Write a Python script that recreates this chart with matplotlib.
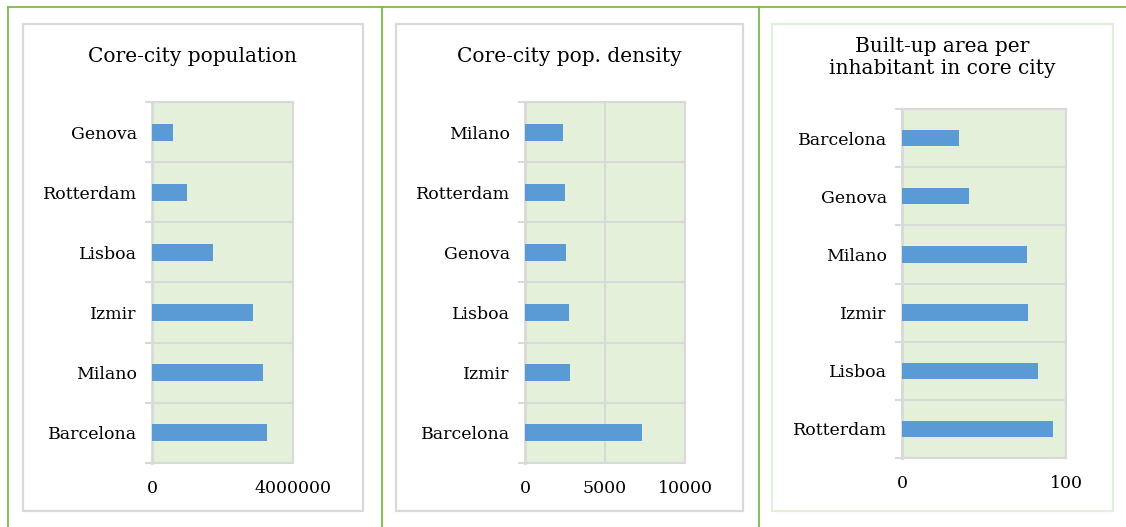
import matplotlib
matplotlib.use("Agg")
import matplotlib.pyplot as plt
from matplotlib.patches import Rectangle
from matplotlib.lines import Line2D

# Data
pop_cities = ["Barcelona", "Milano", "Izmir", "Lisboa", "Rotterdam", "Genova"]
pop_values = [3270000, 3150000, 2870000, 1720000, 990000, 605000]

dens_cities = ["Barcelona", "Izmir", "Lisboa", "Genova", "Rotterdam", "Milano"]
dens_values = [7290, 2810, 2730, 2540, 2500, 2360]

area_cities = ["Rotterdam", "Lisboa", "Izmir", "Milano", "Genova", "Barcelona"]
area_values = [92, 83, 77, 76, 41, 35]

titles = ["Core-city population", "Core-city pop. density",
          "Built-up area per\ninhabitant in core city"]
xticks_list = [[0, 4000000], [0, 5000, 10000], [0, 100]]
xlims = [(0, 4000000), (0, 10000), (0, 100)]

W, H = 1126, 527
fig = plt.figure(figsize=(W / 100, H / 100), dpi=100)
fig.patch.set_facecolor("white")
plt.rcParams["font.family"] = ["DejaVu Serif"]

GRID = "#d9d9d9"
BG = "#e4f0da"
BAR = "#5b9bd5"
GREEN = "#7cbb4a"

def fx(x):
    return x / W

def fy(y):
    return 1 - y / H

# frame lines
fig.add_artist(Line2D([fx(8), fx(W)], [fy(7), fy(7)], color=GREEN, lw=1.3, transform=fig.transFigure))
for x in [8, 381.5, 758.5]:
    fig.add_artist(Line2D([fx(x), fx(x)], [fy(7), fy(H)], color=GREEN, lw=1.3, transform=fig.transFigure))

# cards
cards = [(23, 24, 363, 511, GRID), (396, 24, 743, 511, GRID), (772, 24, 1113, 511, "#e2efda")]
for (x0, y0, x1, y1, c) in cards:
    fig.add_artist(Rectangle((fx(x0), fy(y1)), fx(x1 - x0), (y1 - y0) / H,
                             transform=fig.transFigure, fill=False, edgecolor=c, lw=1.6))

# plot areas (left, top, right, bottom) in pixels
areas = [(152, 102, 293, 463), (525, 102, 685, 463), (902, 109, 1066, 458)]
title_y = [57, 57, 57]
title_x = [192, 569, 942]
datasets = [(pop_cities, pop_values), (dens_cities, dens_values), (area_cities, area_values)]

for i, ((l, t, r, b), (cats, vals)) in enumerate(zip(areas, datasets)):
    ax = fig.add_axes([fx(l), fy(b), (r - l) / W, (b - t) / H])
    ax.set_facecolor(BG)
    pos = list(range(len(cats)))
    ax.barh(pos, vals, height=0.28, color=BAR, zorder=3)
    ax.set_ylim(-0.5, len(cats) - 0.5)
    ax.set_xlim(*xlims[i])
    ax.set_yticks(pos)
    ax.set_yticklabels(cats, fontsize=12.5)
    ax.set_yticks([p + 0.5 for p in range(-1, len(cats))], minor=True)
    ax.tick_params(axis="y", which="major", length=0, pad=11)
    ax.tick_params(axis="y", which="minor", length=5, width=1.5, color=GRID, direction="out")
    ax.set_xticks(xticks_list[i])
    ax.set_xticklabels([str(v) for v in xticks_list[i]], fontsize=12.5)
    ax.tick_params(axis="x", length=0, pad=12)
    ax.grid(axis="y", which="minor", color=GRID, lw=1.5, zorder=1)
    ax.grid(axis="x", which="major", color=GRID, lw=1.5, zorder=1)
    ax.set_axisbelow(True)
    for s in ax.spines.values():
        s.set_color(GRID)
        s.set_linewidth(1.5)
    ax.spines["left"].set_linewidth(2)
    fig.text(fx(title_x[i]), fy(title_y[i]), titles[i], ha="center", va="center",
             fontsize=14.5, linespacing=1.2)

fig.savefig("out.png", dpi=100)
